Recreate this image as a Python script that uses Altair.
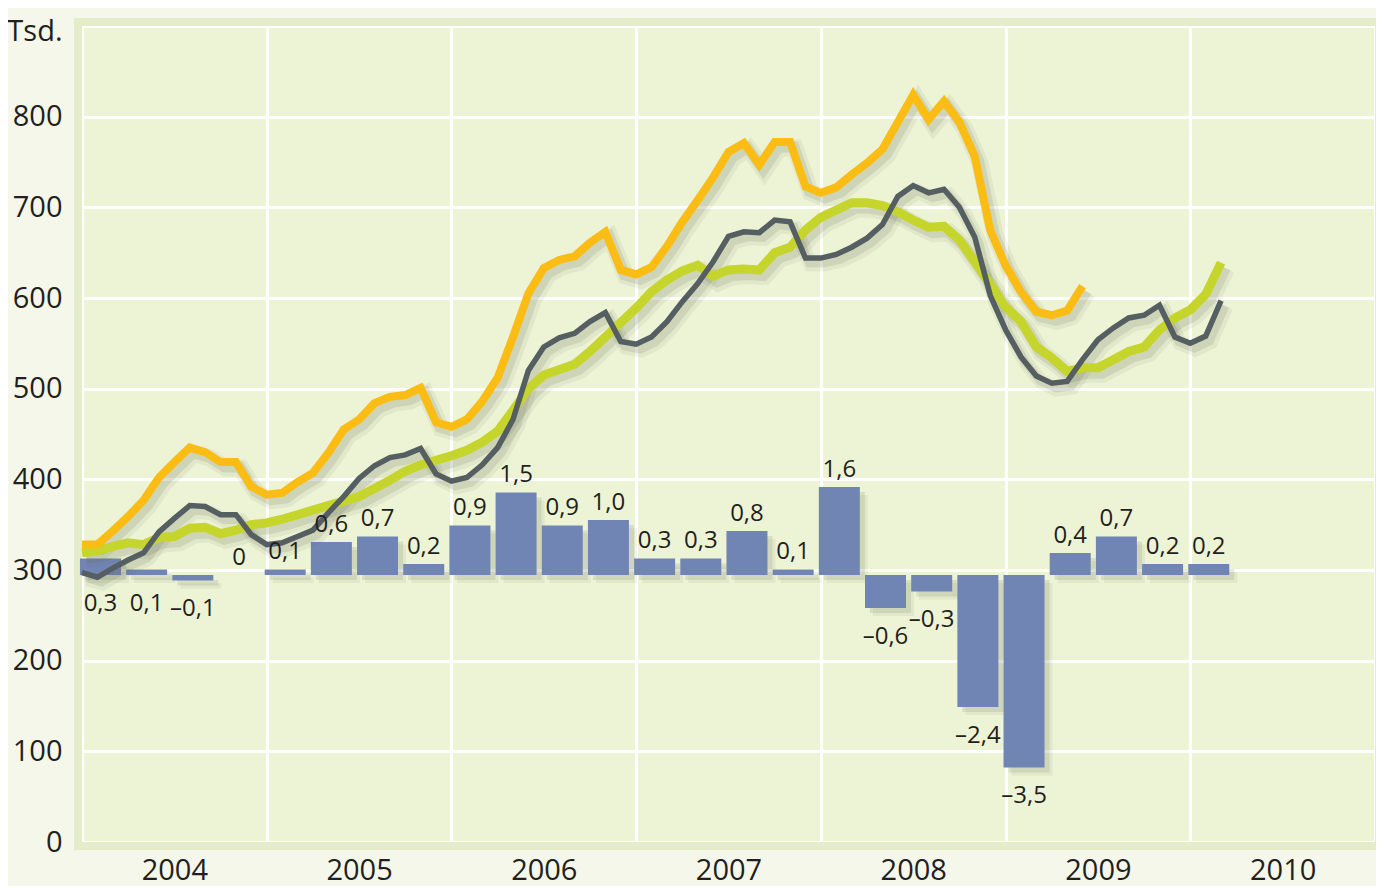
import altair as alt
import pandas as pd

# ---------------- data ----------------
YEARS = [2004, 2005, 2006, 2007, 2008, 2009, 2010, 2011]
START_YEAR = 2004

# monthly series, starting January 2004
ORANGE = [328, 328, 343, 359, 377, 402, 419, 435, 430, 419, 419, 392,
          383, 385, 397, 407, 429, 455, 466, 484, 491, 493, 501, 463,
          458, 466, 486, 512, 557, 605, 633, 642, 646, 661, 673, 631,
          626, 634, 657, 684, 708, 733, 761, 771, 747, 772, 772, 723,
          716, 722, 736, 749, 764, 794, 824, 797, 817, 794, 756, 675,
          636, 607, 585, 581, 586, 613]
GREEN = [319, 321, 326, 330, 328, 336, 337, 346, 347, 340, 344, 350,
         352, 356, 361, 366, 371, 376, 381, 390, 399, 409, 416, 421,
         426, 432, 441, 453, 476, 500, 515, 521, 527, 541, 557, 573,
         589, 607, 620, 630, 636, 624, 631, 632, 631, 650, 656, 675,
         689, 697, 705, 705, 702, 695, 686, 678, 679, 664, 640, 615,
         590, 574, 546, 534, 519, 523, 523, 532, 541, 546, 565, 578,
         587, 604, 639]
DARK = [297, 292, 302, 311, 319, 342, 357, 371, 370, 361, 361, 339,
        328, 330, 337, 344, 363, 381, 401, 415, 424, 427, 434, 406,
        398, 402, 416, 435, 466, 520, 546, 556, 561, 574, 584, 552,
        549, 557, 574, 596, 616, 640, 668, 673, 672, 686, 684, 644,
        644, 648, 656, 666, 681, 712, 724, 716, 720, 700, 667, 603,
        565, 535, 514, 506, 508, 532, 554, 567, 578, 581, 592, 557,
        550, 558, 597]

# quarterly bars, starting Q1 2004
BAR_VALUES = [0.3, 0.1, -0.1, 0.0, 0.1, 0.6, 0.7, 0.2,
              0.9, 1.5, 0.9, 1.0, 0.3, 0.3, 0.8, 0.1,
              1.6, -0.6, -0.3, -2.4, -3.5, 0.4, 0.7, 0.2, 0.2]
LABEL_SIDE = ["below", "below", "below", "above", "above", "above", "above", "above",
              "above", "above", "above", "above", "above", "above", "above", "above",
              "above", "below", "below", "below", "below", "above", "above", "above", "above"]

Y_TICKS = [0, 100, 200, 300, 400, 500, 600, 700, 800, 900]
BAR_DOMAIN = [-4.855, 9.982]

# ---------------- styling ----------------
W, H = 1293, 816
FONT = "Open Sans"
TXT = "#231f20"
C_ORANGE = "#fbbc13"
C_GREEN = "#c6d52b"
C_DARK = "#555e60"
C_BAR = "#7185b5"
C_SHADOW = "#5f6450"

def series_df(vals):
    return pd.DataFrame({"x": [START_YEAR + i / 12 for i in range(len(vals))],
                         "value": vals})

df_orange = series_df(ORANGE)
df_green = series_df(GREEN)
df_dark = series_df(DARK)

starts = [START_YEAR + i / 4 for i in range(len(BAR_VALUES))]
def fmt(v):
    if v == 0:
        return "0"
    return f"{v:.1f}".replace(".", ",").replace("-", "\u2013")

df_bars = pd.DataFrame({
    "x0": [s - 0.011 for s in starts],
    "x1": [s + 0.211 for s in starts],
    "xc": [s + 0.1 for s in starts],
    "v": BAR_VALUES,
    "base": [0.0] * len(BAR_VALUES),
    "label": [fmt(v) for v in BAR_VALUES],
    "side": LABEL_SIDE,
    "anchor": [max(v, 0) if s == "above" else min(v, 0) for v, s in zip(BAR_VALUES, LABEL_SIDE)],
})

x_scale = alt.Scale(domain=[2004, 2011], nice=False, zero=False)
x_axis = alt.Axis(values=YEARS, format="d", title=None, grid=True, gridColor="white",
                  gridWidth=3, gridOpacity=1, domain=False, ticks=False,
                  labelFont=FONT, labelFontSize=29, labelColor=TXT,
                  labelOffset=W / 7 / 2, labelPadding=14, labelFlush=False,
                  labelOverlap=False,
                  labelExpr="datum.value == 2011 ? '' : datum.label")
y_scale = alt.Scale(domain=[0, 900], nice=False, zero=False)
y_axis = alt.Axis(values=Y_TICKS, title=None, grid=True, gridColor="white",
                  gridWidth=3, gridOpacity=1, domain=False, ticks=False,
                  labelFont=FONT, labelFontSize=29, labelColor=TXT,
                  labelPadding=20, labelOverlap=False, labelFlush=False,
                  labelOffset={"condition": {"test": "datum.value == 900", "value": 5}, "value": 0},
                  labelExpr="datum.value == 900 ? 'Tsd.' : datum.label")
bar_scale = alt.Scale(domain=BAR_DOMAIN, nice=False, zero=False)

# background band around the plot area
band = alt.Chart(pd.DataFrame({"a": [0]})).mark_rect(
    fill=None, stroke="#e5ecc9", strokeWidth=8
).encode(x=alt.value(-4), x2=alt.value(W + 4), y=alt.value(-4), y2=alt.value(H + 4))

# bars + shadows
def bar_layer(color, opacity, off):
    return alt.Chart(df_bars).mark_bar(
        color=color, opacity=opacity, xOffset=off, x2Offset=off, yOffset=off, y2Offset=off
    ).encode(
        x=alt.X("x0:Q", scale=x_scale, axis=x_axis),
        x2="x1:Q",
        y=alt.Y("v:Q", scale=bar_scale, axis=None),
        y2="base:Q",
    )

bars = alt.layer(
    bar_layer(C_SHADOW, 0.08, 8),
    bar_layer(C_SHADOW, 0.14, 5),
    bar_layer(C_BAR, 1, 0),
)

# lines + shadows
def line(df, color, width, opacity=1.0, off=0):
    return alt.Chart(df).mark_line(
        color=color, strokeWidth=width, opacity=opacity, strokeCap="butt",
        strokeJoin="miter", xOffset=off, yOffset=off + 1 if off else 0
    ).encode(
        x=alt.X("x:Q", scale=x_scale, axis=x_axis),
        y=alt.Y("value:Q", scale=y_scale, axis=y_axis),
    )

shadows = []
for df, w in ((df_green, 9), (df_orange, 8), (df_dark, 5.5)):
    shadows.append(line(df, C_SHADOW, w + 9, 0.08, 5))
    shadows.append(line(df, C_SHADOW, w + 3, 0.15, 4))

lines = alt.layer(*shadows,
                  line(df_green, C_GREEN, 9),
                  line(df_orange, C_ORANGE, 8),
                  line(df_dark, C_DARK, 5.5))

# bar labels
def label_layer(side, dy):
    return alt.Chart(df_bars).transform_filter(
        alt.datum.side == side
    ).mark_text(font=FONT, fontSize=24, color=TXT, baseline="alphabetic",
                align="center", dy=dy).encode(
        x=alt.X("xc:Q", scale=x_scale, axis=x_axis),
        y=alt.Y("anchor:Q", scale=bar_scale, axis=None),
        text="label:N",
    )

labels = alt.layer(label_layer("above", -10), label_layer("below", 36))

chart = alt.layer(band, bars, lines, labels).resolve_scale(
    y="independent"
).properties(
    width=W, height=H,
    autosize=alt.AutoSizeParams(type="none"),
    padding={"left": 74, "top": 18, "right": 1, "bottom": 44},
    background="#f5f7ea",
).configure_view(fill="#edf3d5", stroke=None)

chart.save("out.html", embed_options={"renderer": "svg", "actions": False})
